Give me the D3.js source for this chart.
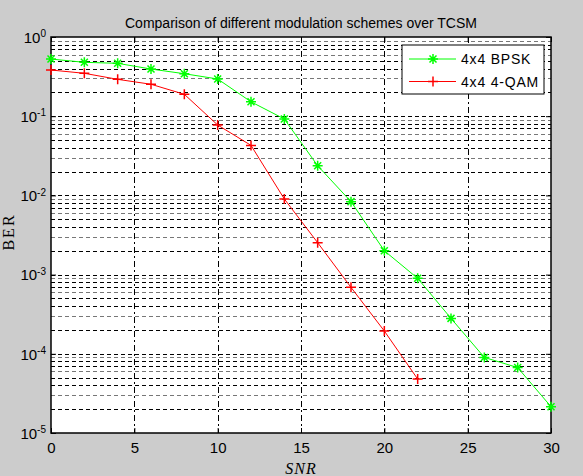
<!DOCTYPE html>
<html>
<head>
<meta charset="utf-8">
<script src="https://cdn.jsdelivr.net/npm/d3@7"></script>
<style>
  body { margin: 0; background: #cccccc; }
  svg { display: block; }
</style>
</head>
<body>
<div id="chart"></div>
<script>
// SNR points (dB)
const snr = [0, 2, 4, 6, 8, 10, 12, 14, 16, 18, 20, 22, 24, 26, 28, 30];
const bpskBer = [0.527, 0.479, 0.465, 0.394, 0.344, 0.295, 0.152, 0.0922, 0.0237,
  0.00834, 0.0020, 0.000897, 0.00028, 0.000090, 0.000067, 0.0000215];
const qamSnr = [0, 2, 4, 6, 8, 10, 12, 14, 16, 18, 20, 22];
const qamBer = [0.383, 0.348, 0.292, 0.253, 0.189, 0.0774, 0.0428, 0.00901,
  0.00253, 0.00069, 0.000194, 0.000048];
const xTicks = [0, 5, 10, 15, 20, 25, 30];
const yExps = [0, -1, -2, -3, -4, -5];
const seriesNames = ['4x4 BPSK', '4x4 4-QAM'];

const width = 583, height = 476;
const margin = { top: 37, right: 32, bottom: 43, left: 51 };

const svg = d3.select('#chart').append('svg')
  .attr('width', width)
  .attr('height', height);

svg.append('rect').attr('width', width).attr('height', height).attr('fill', '#cccccc');

const x = d3.scaleLinear().domain([0, 30]).range([margin.left, width - margin.right]);
const y = d3.scaleLog().domain([1e-5, 1]).range([height - margin.bottom, margin.top]);

// plot area
svg.append('rect')
  .attr('x', x(0)).attr('y', y(1))
  .attr('width', x(30) - x(0)).attr('height', y(1e-5) - y(1))
  .attr('fill', '#fff');

// horizontal grid (log minor + major)
const yGridVals = y.ticks().filter(v => v > 1e-5 && v < 1);
svg.append('g')
  .selectAll('line')
  .data(yGridVals)
  .join('line')
  .attr('x1', x(0)).attr('x2', x(30))
  .attr('y1', d => Math.round(y(d)) + 0.5)
  .attr('y2', d => Math.round(y(d)) + 0.5)
  .attr('stroke', (d, i) => (i % 3 === 1 ? '#777' : '#000'))
  .attr('stroke-width', 1)
  .attr('stroke-dasharray', '4,3');

// vertical grid
svg.append('g')
  .selectAll('line')
  .data(xTicks.filter(d => d > 0 && d < 30))
  .join('line')
  .attr('x1', d => Math.round(x(d)) + 0.5)
  .attr('x2', d => Math.round(x(d)) + 0.5)
  .attr('y1', y(1)).attr('y2', y(1e-5))
  .attr('stroke', '#000')
  .attr('stroke-width', 1)
  .attr('stroke-dasharray', '6,3,2,3');

// axes
const xAxis = d3.axisBottom(x).tickValues(xTicks).tickSize(-5).tickPadding(9);
svg.append('g')
  .attr('transform', `translate(0,${y(1e-5)})`)
  .call(xAxis)
  .call(g => g.select('.domain').remove())
  .call(g => g.selectAll('text')
    .attr('font-family', 'Liberation Sans, Arial, sans-serif')
    .attr('font-size', 15)
    .attr('fill', '#000'));

svg.append('g')
  .attr('transform', `translate(0,${y(1)})`)
  .call(d3.axisTop(x).tickValues(xTicks).tickSize(-5).tickFormat(''))
  .call(g => g.select('.domain').remove());

const yAxis = d3.axisLeft(y).tickValues(yExps.map(e => Math.pow(10, e))).tickSize(-5).tickFormat('');
const yg = svg.append('g')
  .attr('transform', `translate(${x(0)},0)`)
  .call(yAxis)
  .call(g => g.select('.domain').remove());

yg.selectAll('.tick').each(function (d) {
  const e = Math.round(Math.log10(d));
  const t = d3.select(this).append('text')
    .attr('x', -5)
    .attr('dy', '0.35em')
    .attr('text-anchor', 'end')
    .attr('fill', '#000')
    .attr('font-family', 'Liberation Sans, Arial, sans-serif')
    .attr('font-size', 15);
  t.append('tspan').text('10');
  t.append('tspan').attr('dy', '-0.55em').attr('font-size', 10).text(String(e));
});

svg.append('g')
  .attr('transform', `translate(${x(30)},0)`)
  .call(d3.axisRight(y).tickValues(yExps.map(e => Math.pow(10, e))).tickSize(-5).tickFormat(''))
  .call(g => g.select('.domain').remove());

// box
svg.append('rect')
  .attr('x', x(0)).attr('y', y(1))
  .attr('width', x(30) - x(0)).attr('height', y(1e-5) - y(1))
  .attr('fill', 'none')
  .attr('stroke', '#000')
  .attr('stroke-width', 1.5);

// lines
const line = d3.line().x(d => x(d[0])).y(d => y(d[1]));
const bpsk = snr.map((s, i) => [s, bpskBer[i]]);
const qam = qamSnr.map((s, i) => [s, qamBer[i]]);

svg.append('path').datum(bpsk).attr('d', line)
  .attr('fill', 'none').attr('stroke', '#00ff00').attr('stroke-width', 1);
svg.append('path').datum(qam).attr('d', line)
  .attr('fill', 'none').attr('stroke', '#ff0000').attr('stroke-width', 1);

const plusPath = 'M-5,0H5M0,-5V5';
const starPath = 'M-5,0H5M0,-5V5M-3.5,-3.5L3.5,3.5M-3.5,3.5L3.5,-3.5';

svg.append('g').selectAll('path').data(bpsk).join('path')
  .attr('transform', d => `translate(${x(d[0])},${y(d[1])})`)
  .attr('d', starPath)
  .attr('stroke', '#00ff00').attr('stroke-width', 1.5).attr('fill', 'none');
svg.append('g').selectAll('path').data(qam).join('path')
  .attr('transform', d => `translate(${x(d[0])},${y(d[1])})`)
  .attr('d', plusPath)
  .attr('stroke', '#ff0000').attr('stroke-width', 1.5).attr('fill', 'none');

// title and labels
svg.append('text')
  .attr('x', (x(0) + x(30)) / 2).attr('y', 28)
  .attr('text-anchor', 'middle')
  .attr('font-family', 'Liberation Sans, Arial, sans-serif')
  .attr('font-size', 14)
  .text('Comparison of different modulation schemes over TCSM');

svg.append('text')
  .attr('x', (x(0) + x(30)) / 2).attr('y', 474)
  .attr('text-anchor', 'middle')
  .attr('font-family', 'Liberation Serif, Times New Roman, serif')
  .attr('font-style', 'italic')
  .attr('font-size', 16)
  .attr('letter-spacing', 1)
  .text('SNR');

svg.append('text')
  .attr('transform', 'translate(14,232) rotate(-90)')
  .attr('text-anchor', 'middle')
  .attr('font-family', 'Liberation Serif, Times New Roman, serif')
  .attr('font-size', 16)
  .attr('letter-spacing', 2)
  .text('BER');

// legend
const lg = svg.append('g').attr('transform', 'translate(402,45)');
lg.append('rect').attr('width', 142).attr('height', 49)
  .attr('fill', '#fff').attr('stroke', '#000').attr('stroke-width', 1);
const legendItems = [
  { name: seriesNames[0], color: '#00ff00', marker: starPath },
  { name: seriesNames[1], color: '#ff0000', marker: plusPath },
];
legendItems.forEach((it, i) => {
  const cy = 14 + i * 22.5;
  lg.append('line').attr('x1', 7).attr('x2', 54).attr('y1', cy).attr('y2', cy)
    .attr('stroke', it.color).attr('stroke-width', 1);
  lg.append('path').attr('transform', `translate(31,${cy})`).attr('d', it.marker)
    .attr('stroke', it.color).attr('stroke-width', 1.5).attr('fill', 'none');
  lg.append('text').attr('x', 59).attr('y', cy).attr('dy', '0.36em')
    .attr('font-family', 'Liberation Sans, Arial, sans-serif')
    .attr('font-size', 14)
    .attr('letter-spacing', 0.8)
    .text(it.name);
});
</script>
</body>
</html>
